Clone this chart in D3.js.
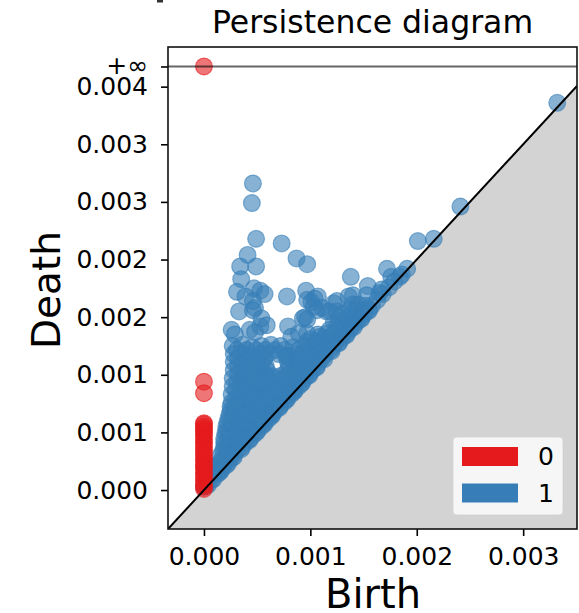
<!DOCTYPE html>
<html><head><meta charset="utf-8">
<script src="https://cdn.jsdelivr.net/npm/d3@7/dist/d3.min.js"></script>
<style>body{margin:0;background:#fff}svg text{font-family:"DejaVu Sans",sans-serif;fill:#000}</style>
</head><body><svg id="c" width="579" height="613"></svg>
<script>
const titleText = "Persistence diagram";
const dimLabels = ["0", "1"];
const dimColors = ["#e41a1c", "#377eb8"];
const xTicks = [0, 0.001, 0.002, 0.003];
const xTickLabels = ["0.000", "0.001", "0.002", "0.003"];
const yTicks = [0, 0.0005, 0.001, 0.0015, 0.002, 0.0025, 0.003, 0.0035];
const yTickLabels = ["0.000", "0.001", "0.001", "0.002", "0.002", "0.003", "0.003", "0.004"];
const axisStart = -0.000338, axisEnd = 0.003506, infinityValue = 0.003675, yTop = 0.003844;

// dimension 0: birth is 0 for all; Infinity = essential class
const h0Birth = [0,0,0,0,0,0,0,0,0,0,0,0,0,0,0,0,0,0,0,0,0,0,0,0,0,0,0,0,0];
const h0Death = [Infinity,0.00094,0.00084,0.00058,0.00057,0.00055,0.00053,0.00051,0.00049,0.00047,0.00044,0.00042,0.00040,0.00037,0.00035,0.00032,0.00030,0.00027,0.00025,0.00022,0.00020,0.00018,0.00015,0.00013,0.00010,0.00008,0.00005,0.00003,0.00001];

// dimension 1: [birth, death]
const h1Points = [
[0.00046,0.00266],[0.00045,0.00249],[0.00049,0.00218],[0.00073,0.00214],[0.00087,0.00201],[0.00097,0.00196],
[0.00041,0.00204],[0.00034,0.00194],[0.00049,0.00194],[0.00035,0.00183],[0.00031,0.00172],[0.00047,0.00175],
[0.00053,0.00173],[0.00057,0.00170],[0.00078,0.00168],[0.00096,0.00173],[0.00107,0.00168],[0.00101,0.00163],
[0.00138,0.00185],[0.00154,0.00177],[0.00172,0.00192],[0.00176,0.00185],[0.00184,0.00185],[0.00191,0.00192],
[0.00201,0.00216],[0.00216,0.00218],[0.00241,0.00246],[0.00332,0.00336],[0.00165,0.00171],[0.00140,0.00169],
[0.00125,0.00164],[0.00136,0.00168],[0.00153,0.00169],[0.00115,0.00155],[0.00106,0.00156],[0.00103,0.00159],
[0.00095,0.00150],[0.00109,0.00133],[0.00097,0.00136],[0.00122,0.00162],[0.00140,0.00161],[0.00033,0.00155],
[0.00048,0.00158],[0.00054,0.00149],[0.00026,0.00139],[0.00029,0.00135],[0.00043,0.00139],[0.00053,0.00142],
[0.00079,0.00142],[0.00093,0.00149],[0.00082,0.00133],[0.00125,0.00155],[0.00046,0.00156],[0.00048,0.00137],
[0.00059,0.00143],[0.00089,0.00136],[0.00107,0.00135],[0.00097,0.00165],[0.00104,0.00166],[0.00111,0.00158],
[0.00118,0.00155],[0.00039,0.00168],[0.00046,0.00164],[0.00167,0.00174],[0.00097,0.00148],
[0.00000,0.00003],[0.00002,0.00004],
[0.00003,0.00008],[0.00007,0.00009],
[0.00006,0.00014],[0.00010,0.00015],[0.00013,0.00014],
[0.00010,0.00021],[0.00014,0.00020],[0.00018,0.00020],
[0.00017,0.00027],[0.00021,0.00028],[0.00025,0.00027],
[0.00018,0.00034],[0.00025,0.00035],[0.00031,0.00034],
[0.00019,0.00041],[0.00026,0.00042],[0.00033,0.00041],[0.00039,0.00041],
[0.00020,0.00049],[0.00027,0.00048],[0.00035,0.00047],[0.00042,0.00048],[0.00047,0.00048],
[0.00021,0.00055],[0.00028,0.00056],[0.00036,0.00055],[0.00043,0.00054],[0.00050,0.00055],[0.00054,0.00055],
[0.00023,0.00062],[0.00030,0.00063],[0.00037,0.00062],[0.00045,0.00061],[0.00052,0.00062],[0.00058,0.00062],[0.00061,0.00062],
[0.00025,0.00069],[0.00032,0.00070],[0.00039,0.00068],[0.00047,0.00069],[0.00054,0.00070],[0.00061,0.00069],[0.00067,0.00069],
[0.00026,0.00076],[0.00033,0.00077],[0.00041,0.00075],[0.00048,0.00076],[0.00056,0.00077],[0.00063,0.00076],[0.00070,0.00076],[0.00075,0.00076],
[0.00026,0.00083],[0.00034,0.00084],[0.00042,0.00082],[0.00050,0.00083],[0.00057,0.00084],[0.00064,0.00083],[0.00072,0.00083],[0.00078,0.00083],[0.00082,0.00083],
[0.00027,0.00090],[0.00035,0.00091],[0.00043,0.00089],[0.00051,0.00090],[0.00058,0.00091],[0.00066,0.00090],[0.00073,0.00090],[0.00080,0.00090],[0.00086,0.00090],[0.00089,0.00090],
[0.00027,0.00097],[0.00036,0.00098],[0.00044,0.00096],[0.00052,0.00097],[0.00060,0.00098],[0.00067,0.00097],[0.00075,0.00097],[0.00082,0.00097],[0.00089,0.00097],[0.00095,0.00097],
[0.00028,0.00104],[0.00036,0.00105],[0.00045,0.00103],[0.00053,0.00104],[0.00059,0.00104],[0.00078,0.00103],[0.00084,0.00104],[0.00091,0.00105],[0.00097,0.00104],[0.00102,0.00104],
[0.00028,0.00111],[0.00037,0.00112],[0.00046,0.00110],[0.00055,0.00111],[0.00079,0.00111],[0.00087,0.00112],[0.00094,0.00111],[0.00101,0.00111],[0.00108,0.00111],
[0.00028,0.00118],[0.00035,0.00119],[0.00044,0.00117],[0.00053,0.00118],[0.00061,0.00119],[0.00070,0.00118],[0.00078,0.00117],[0.00086,0.00118],[0.00093,0.00119],[0.00100,0.00118],[0.00107,0.00118],[0.00114,0.00118],
[0.00027,0.00125],[0.00036,0.00126],[0.00045,0.00124],[0.00054,0.00125],[0.00063,0.00126],[0.00072,0.00125],[0.00084,0.00124],[0.00095,0.00125],[0.00102,0.00126],[0.00110,0.00125],[0.00117,0.00126],[0.00122,0.00125],
[0.00100,0.00131],[0.00113,0.00132],[0.00120,0.00133],[0.00127,0.00132],[0.00130,0.00132],
[0.00118,0.00139],[0.00126,0.00140],[0.00133,0.00139],[0.00137,0.00139],
[0.00122,0.00146],[0.00130,0.00147],[0.00138,0.00146],[0.00144,0.00146],
[0.00131,0.00153],[0.00140,0.00154],[0.00147,0.00153],[0.00151,0.00153],
[0.00145,0.00161],[0.00152,0.00160],[0.00158,0.00160],
[0.00163,0.00165],[0.00168,0.00170],[0.00174,0.00176],[0.00179,0.00181],[0.00186,0.00187],
[0.00008,0.00017],[0.00012,0.00017],[0.00016,0.00017],
[0.00015,0.000235],[0.00019,0.000235],[0.00023,0.000235],
[0.00016,0.000305],[0.00021,0.000305],[0.00028,0.000305],
[0.00019,0.000375],[0.00022,0.000375],[0.00029,0.000375],[0.00036,0.000375],
[0.00019,0.000445],[0.00023,0.000445],[0.00030,0.000445],[0.00037,0.000445],[0.00043,0.000445],
[0.00021,0.000515],[0.00024,0.000515],[0.00031,0.000515],[0.00039,0.000515],[0.00046,0.000515],[0.00050,0.000515],
[0.00022,0.000585],[0.00026,0.000585],[0.00033,0.000585],[0.00040,0.000585],[0.00047,0.000585],[0.00054,0.000585],[0.00057,0.000585],
[0.00024,0.000655],[0.00028,0.000655],[0.00035,0.000655],[0.00042,0.000655],[0.00049,0.000655],[0.00056,0.000655],[0.00062,0.000655],[0.00064,0.000655],
[0.00025,0.000725],[0.00029,0.000725],[0.00037,0.000725],[0.00044,0.000725],[0.00051,0.000725],[0.00058,0.000725],[0.00065,0.000725],[0.00071,0.000725],
[0.00030,0.000795],[0.00038,0.000795],[0.00045,0.000795],[0.00053,0.000795],[0.00060,0.000795],[0.00067,0.000795],[0.00074,0.000795],[0.00078,0.000795],
[0.00030,0.000865],[0.00039,0.000865],[0.00047,0.000865],[0.00054,0.000865],[0.00062,0.000865],[0.00069,0.000865],[0.00076,0.000865],[0.00083,0.000865],[0.00085,0.000865],
[0.00031,0.000935],[0.00039,0.000935],[0.00048,0.000935],[0.00055,0.000935],[0.00063,0.000935],[0.00070,0.000935],[0.00078,0.000935],[0.00085,0.000935],[0.00092,0.000935],
[0.00032,0.001005],[0.00040,0.001005],[0.00049,0.001005],[0.00057,0.001005],[0.00064,0.00099],[0.00072,0.00099],[0.00080,0.001005],[0.00087,0.001005],[0.00094,0.001005],[0.00099,0.001005],
[0.00032,0.001075],[0.00041,0.001075],[0.00050,0.001075],[0.00058,0.001075],[0.00080,0.001075],[0.00088,0.001075],[0.00095,0.001075],[0.00102,0.001075],[0.00106,0.001075],
[0.00032,0.001145],[0.00040,0.001145],[0.00049,0.001145],[0.00057,0.001145],[0.00077,0.00116],[0.00082,0.001145],[0.00090,0.001145],[0.00097,0.001145],[0.00104,0.001145],[0.00111,0.001145],
[0.00031,0.001215],[0.00040,0.001215],[0.00049,0.001215],[0.00058,0.001215],[0.00067,0.001215],[0.00076,0.001215],[0.00089,0.001215],[0.00098,0.001215],[0.00106,0.001215],[0.00113,0.001215],[0.00119,0.001215],
[0.00097,0.001285],[0.00106,0.001285],[0.00117,0.001285],[0.00123,0.001285],[0.00127,0.001285],
[0.00115,0.001355],[0.00122,0.001355],[0.00130,0.001355],[0.00134,0.001355],
[0.00125,0.001425],[0.00133,0.001425],[0.00140,0.001425],
[0.00127,0.001495],[0.00135,0.001495],[0.00143,0.001495],[0.00148,0.001495],
[0.00137,0.001565],[0.00144,0.001565],[0.00150,0.001565],[0.00155,0.001565],
[0.00004,0.000045],[0.00009,0.000095],[0.00015,0.000155],[0.00021,0.000215],[0.00028,0.000285],[0.00035,0.000355],
[0.00043,0.000435],[0.00050,0.000505],[0.00057,0.000575],[0.00064,0.000645],[0.00071,0.000715],[0.00078,0.000785],
[0.00085,0.000855],[0.00092,0.000925],[0.00099,0.000995],[0.00106,0.001065],[0.00113,0.001135],[0.00120,0.001205],
[0.00127,0.001275],[0.00134,0.001345],[0.00141,0.001415],[0.00148,0.001485],[0.00155,0.001555]
];

const svg = d3.select("#c");
const pLeft = 168, pRight = 577, pTop = 47, pBottom = 529;
const x = d3.scaleLinear().domain([axisStart, axisEnd]).range([pLeft, pRight]);
const y = d3.scaleLinear().domain([axisStart, yTop]).range([pBottom, pTop]);

svg.append("defs").append("clipPath").attr("id", "clip")
  .append("rect").attr("x", pLeft).attr("y", pTop).attr("width", pRight - pLeft).attr("height", pBottom - pTop);
const plot = svg.append("g").attr("clip-path", "url(#clip)");

// grey region below diagonal
plot.append("path")
  .attr("d", d3.line()([[x(axisStart), y(axisStart)], [x(axisEnd), y(axisEnd)], [x(axisEnd), y(axisStart)]]) + "Z")
  .attr("fill", "#d3d3d3");

const pts = h1Points.map(p => ({b: p[0], d: p[1], dim: 1}))
  .concat(h0Birth.map((b, i) => ({b: b, d: h0Death[i], dim: 0})));
plot.selectAll("circle.pt").data(pts).join("circle").attr("class", "pt")
  .attr("cx", p => x(p.b))
  .attr("cy", p => y(isFinite(p.d) ? p.d : infinityValue))
  .attr("r", 8.4)
  .attr("fill", p => dimColors[p.dim]).attr("fill-opacity", 0.6)
  .attr("stroke", p => dimColors[p.dim]).attr("stroke-opacity", 0.6).attr("stroke-width", 1.2);

// diagonal & infinity line
plot.append("line").attr("x1", x(axisStart)).attr("y1", y(axisStart)).attr("x2", x(axisEnd)).attr("y2", y(axisEnd))
  .attr("stroke", "#000").attr("stroke-width", 2);
plot.append("line").attr("x1", x(axisStart)).attr("y1", y(infinityValue)).attr("x2", x(axisEnd)).attr("y2", y(infinityValue))
  .attr("stroke", "#000").attr("stroke-opacity", 0.6).attr("stroke-width", 2);

// axes
const xAxis = d3.axisBottom(x).tickValues(xTicks).tickFormat((d, i) => xTickLabels[i]).tickSize(7).tickPadding(11);
const yVals = yTicks.concat([infinityValue]);
const yLabs = yTickLabels.concat(["+\u221e"]);
const yAxis = d3.axisLeft(y).tickValues(yVals).tickFormat((d, i) => yLabs[i]).tickSize(7).tickPadding(13);
const gx = svg.append("g").attr("transform", `translate(0,${pBottom})`).call(xAxis);
const gy = svg.append("g").attr("transform", `translate(${pLeft},0)`).call(yAxis);
[gx, gy].forEach(g => {
  g.select(".domain").remove();
  g.selectAll(".tick line").attr("stroke", "#000").attr("stroke-width", 1.6);
  g.selectAll(".tick text").attr("font-size", 25).attr("font-family", "DejaVu Sans").attr("fill", "#1a1a1a");
});
gy.selectAll(".tick text").filter((d, i) => i === yVals.length - 1).attr("dy", "0.28em");

// frame
svg.append("rect").attr("x", pLeft).attr("y", pTop).attr("width", pRight - pLeft).attr("height", pBottom - pTop)
  .attr("fill", "none").attr("stroke", "#111").attr("stroke-width", 1.6);

// title & labels
svg.append("text").attr("x", (pLeft + pRight) / 2).attr("y", 33).attr("text-anchor", "middle")
  .attr("font-size", 31.5).attr("fill", "#1a1a1a").text(titleText);
svg.append("text").attr("x", 373).attr("y", 608).attr("text-anchor", "middle")
  .attr("font-size", 40).attr("fill", "#111").text("Birth");
svg.append("text").attr("transform", "translate(60,290) rotate(-90)").attr("text-anchor", "middle")
  .attr("font-size", 39).attr("fill", "#111").text("Death");

// stray mark at top
svg.append("rect").attr("x", 157).attr("y", 0).attr("width", 6).attr("height", 2.5).attr("fill", "#333");

// legend
const lg = svg.append("g");
lg.append("rect").attr("x", 453).attr("y", 437).attr("width", 110).attr("height", 78).attr("rx", 4)
  .attr("fill", "#fff").attr("fill-opacity", 0.8).attr("stroke", "#ccc").attr("stroke-opacity", 0.6);
dimLabels.forEach((lab, i) => {
  lg.append("rect").attr("x", 462).attr("y", 447 + i * 36.5).attr("width", 56).attr("height", 19).attr("fill", dimColors[i]);
  lg.append("text").attr("x", 538).attr("y", 456.5 + i * 36.5).attr("dy", "0.35em").attr("font-size", 25)
    .attr("fill", "#1a1a1a").text(lab);
});
</script></body></html>
